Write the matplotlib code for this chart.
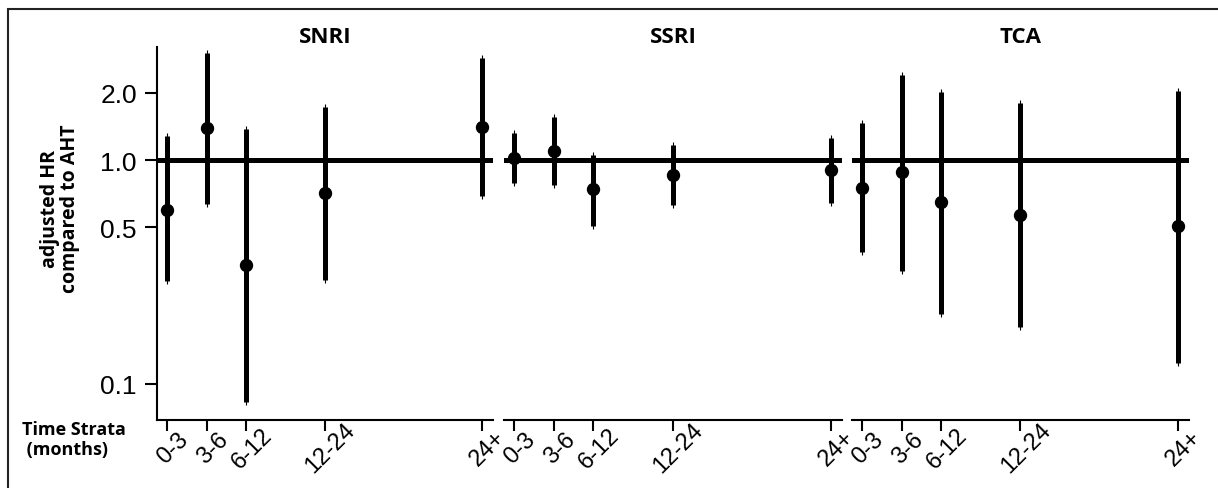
import matplotlib.pyplot as plt
import matplotlib.transforms as mtransforms
from matplotlib.patches import Rectangle

plt.rcParams['font.family'] = ['Liberation Sans', 'DejaVu Sans']

# data
strata = ['0-3', '3-6', '6-12', '12-24', '24+']
strata_pos = [0, 1, 2, 4, 8]
drugs = ['SNRI', 'SSRI', 'TCA']

snri_hr = [0.60, 1.39, 0.34, 0.71, 1.41]
snri_lo = [0.288, 0.638, 0.083, 0.29, 0.69]
snri_hi = [1.28, 3.0, 1.37, 1.73, 2.86]

ssri_hr = [1.02, 1.10, 0.74, 0.86, 0.90]
ssri_lo = [0.79, 0.775, 0.506, 0.63, 0.645]
ssri_hi = [1.32, 1.55, 1.05, 1.165, 1.26]

tca_hr = [0.75, 0.885, 0.65, 0.57, 0.505]
tca_lo = [0.39, 0.32, 0.206, 0.18, 0.124]
tca_hi = [1.46, 2.4, 2.02, 1.79, 2.04]

hr = [snri_hr, ssri_hr, tca_hr]
lo = [snri_lo, ssri_lo, tca_lo]
hi = [snri_hi, ssri_hi, tca_hi]

yticks = [0.1, 0.5, 1.0, 2.0]
ytick_labels = ['0.1', '0.5', '1.0', '2.0']

W, H = 1218, 489
fig = plt.figure(figsize=(W / 100, H / 100), dpi=100)

# panel extents in pixels (left, right), top and bottom shared
panels_px = [(157, 493), (504, 842), (852, 1189)]
top_px, bot_px = 48, 421

bold_font = 'Open Sans'

for i, (l, r) in enumerate(panels_px):
    ax = fig.add_axes([l / W, 1 - bot_px / H, (r - l) / W, (bot_px - top_px) / H])
    ax.set_yscale('log')
    ax.set_ylim(0.069, 3.2)
    ax.set_xlim(-0.26, 8.28)

    ax.axhline(1.0, color='black', lw=3.6, zorder=1)
    ax.vlines(strata_pos, lo[i], hi[i], color='black', lw=3.6, zorder=2)
    ax.plot(strata_pos, lo[i], ls='none', marker='|', ms=5, mew=0.8, color='black', zorder=2)
    ax.plot(strata_pos, hi[i], ls='none', marker='|', ms=5, mew=0.8, color='black', zorder=2)
    ax.plot(strata_pos, hr[i], ls='none', marker='o', ms=8.6, color='black', zorder=3)

    for s in ['top', 'right']:
        ax.spines[s].set_visible(False)
    ax.spines['bottom'].set_linewidth(1.5)
    ax.spines['left'].set_linewidth(1.5)

    ax.set_xticks(strata_pos)
    ax.set_xticklabels(strata, rotation=45, ha='center', va='center',
                       rotation_mode='anchor', fontsize=17)
    ax.tick_params(axis='x', length=8, width=1.5, pad=12)
    offset = mtransforms.ScaledTranslation(6 / 100, 0, fig.dpi_scale_trans)
    for lab in ax.get_xticklabels():
        lab.set_transform(lab.get_transform() + offset)

    ax.yaxis.set_minor_locator(plt.NullLocator())
    if i == 0:
        ax.set_yticks(yticks)
        ax.set_yticklabels(ytick_labels, fontsize=19)
        ax.tick_params(axis='y', length=8.5, width=1.5, pad=6)
    else:
        ax.spines['left'].set_visible(False)
        ax.set_yticks([])

    ax.set_title(drugs[i], fontsize=16, fontweight='bold', family=bold_font, pad=2)

fig.text(60 / W, 1 - 209 / H, 'adjusted HR\ncompared to AHT', rotation=90,
         ha='center', va='center', fontsize=14, fontweight='bold',
         family=bold_font, linespacing=1.0)
fig.text(22 / W, 1 - 440 / H, 'Time Strata\n (months)', ha='left', va='center',
         fontsize=13, fontweight='bold', family=bold_font, linespacing=1.1)

# outer frame around the figure
fig.add_artist(Rectangle((8 / W, -0.1), 1.2, 1.1 - 10 / H, transform=fig.transFigure,
                         fill=False, lw=1.5, edgecolor='#222222'))

fig.savefig('out.png', dpi=100)
